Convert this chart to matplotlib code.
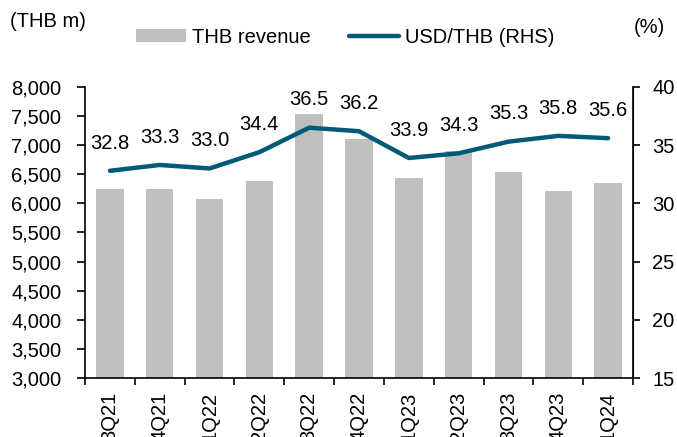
import matplotlib.pyplot as plt
import numpy as np

# data
quarters = ['3Q21', '4Q21', '1Q22', '2Q22', '3Q22', '4Q22', '1Q23', '2Q23', '3Q23', '4Q23', '1Q24']
revenue = [6240, 6240, 6080, 6380, 7540, 7110, 6440, 6905, 6540, 6210, 6345]
usd_thb = [32.8, 33.3, 33.0, 34.4, 36.5, 36.2, 33.9, 34.3, 35.3, 35.8, 35.6]

plt.rcParams['font.family'] = ['Liberation Sans', 'DejaVu Sans']
fs = 14.5

fig = plt.figure(figsize=(6.77, 4.37), dpi=100)
ax = fig.add_axes([0.1256, 0.135, 0.935 - 0.1256, 0.801 - 0.135])
x = np.arange(len(quarters))

bars = ax.bar(x, revenue, width=0.55, color='#bfbfbf', label='THB revenue', zorder=1)
ax.set_ylim(3000, 8000)
ax.set_yticks(range(3000, 8001, 500))
ax.set_yticklabels([f'{v:,}' for v in range(3000, 8001, 500)], fontsize=fs)
ax.set_xlim(-0.5, len(quarters) - 0.5)
ax.set_xticks(x)
ax.set_xticklabels(quarters, rotation=90, fontsize=fs)
ax.tick_params(axis='x', length=0, pad=10)
ax.set_xticks(np.arange(-0.5, len(quarters), 1), minor=True)
ax.tick_params(axis='x', which='minor', length=5, direction='out', width=1.2)
ax.tick_params(axis='y', length=6, direction='out', width=1.2, pad=11)
ax.spines['top'].set_visible(False)
for s in ['left', 'bottom']:
    ax.spines[s].set_linewidth(1.2)

ax2 = ax.twinx()
line, = ax2.plot(x, usd_thb, color='#005a78', lw=3.2, solid_capstyle='round',
                 label='USD/THB (RHS)', zorder=3)
ax2.set_ylim(15, 40)
ax2.set_yticks(range(15, 41, 5))
ax2.tick_params(axis='y', length=5, direction='out', width=1.2, labelsize=fs, pad=9)
ax2.spines['top'].set_visible(False)
ax2.spines['left'].set_visible(False)
ax2.spines['bottom'].set_visible(False)
ax2.spines['right'].set_linewidth(1.2)

for xi, v in zip(x, usd_thb):
    ax2.annotate(f'{v:.1f}', (xi, v), xytext=(0, 20), textcoords='offset points',
                 ha='center', va='center', fontsize=fs)

fig.text(0.015, 0.95, '(THB m)', fontsize=fs, va='center', ha='left')
fig.text(0.983, 0.938, '(%)', fontsize=fs, va='center', ha='right')

fig.legend([bars, line], ['THB revenue', 'USD/THB (RHS)'], ncol=2, frameon=False,
           loc='center', bbox_to_anchor=(0.51, 0.915), fontsize=fs,
           handlelength=2.5, handleheight=0.6, handletextpad=0.3, columnspacing=1.9)

fig.savefig('out.png', dpi=100)
